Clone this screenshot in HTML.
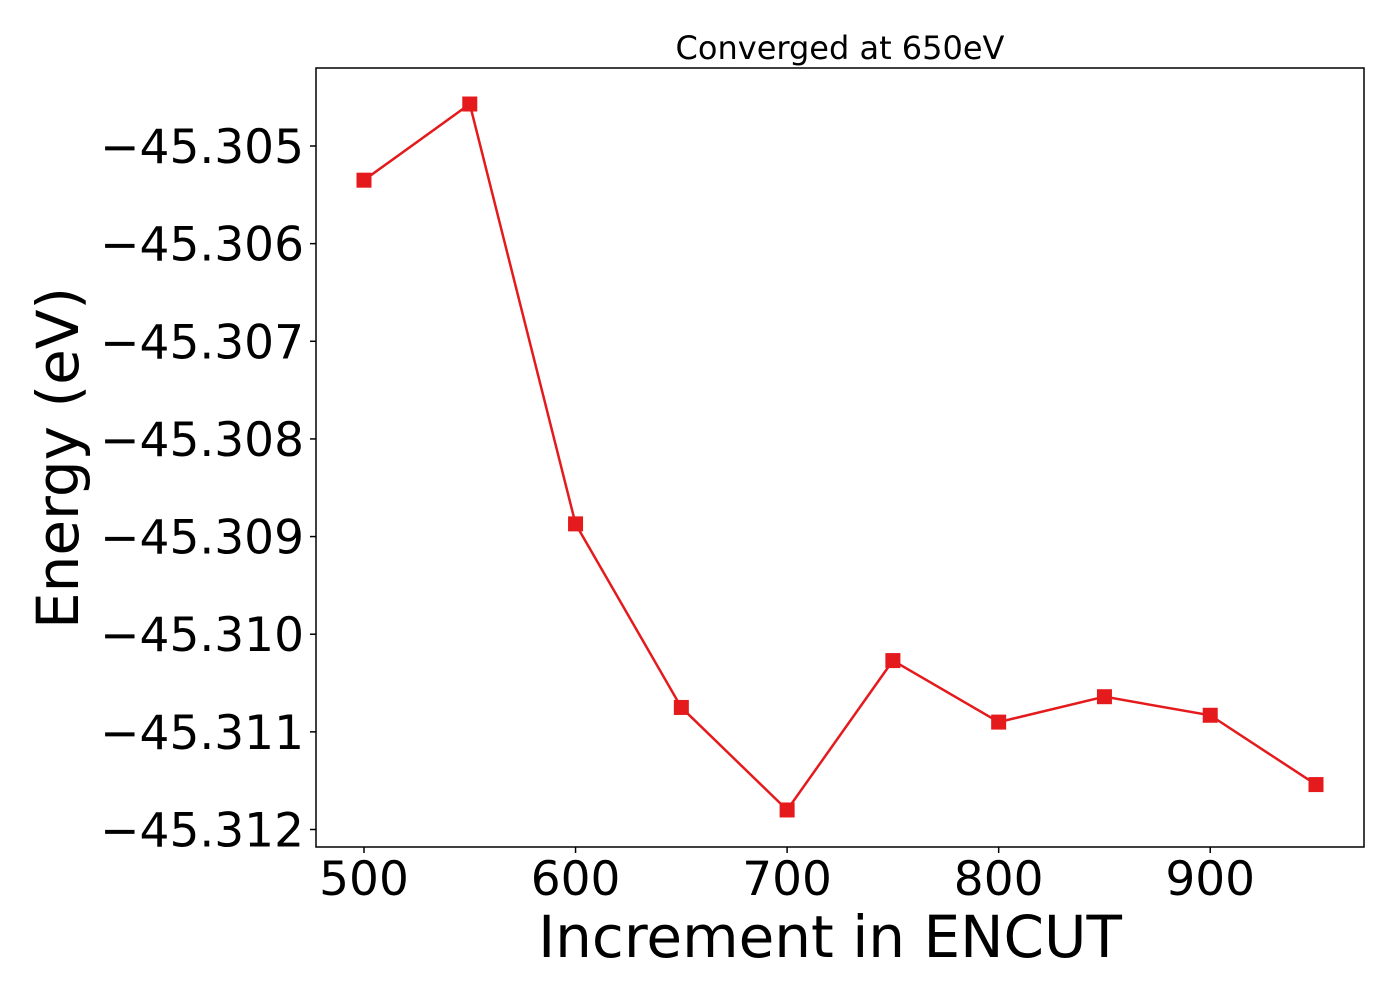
<!DOCTYPE html>
<html><head><meta charset="utf-8"><style>
html,body{margin:0;padding:0;background:#fff;}
svg{display:block;font-family:"DejaVu Sans","Liberation Sans",sans-serif;}
</style></head><body>
<svg id="chart" width="1400" height="1000" viewBox="0 0 1400 1000" xmlns="http://www.w3.org/2000/svg">
<rect width="1400" height="1000" fill="#fff"/>
<text x="840" y="59" font-size="32" text-anchor="middle">Converged at 650eV</text>
<g id="grid"></g>
<rect x="316" y="68" width="1048" height="779" fill="none" stroke="#000" stroke-width="1.5"/>
<text x="830" y="957" font-size="58" text-anchor="middle">Increment in ENCUT</text>
<text transform="translate(78,458) rotate(-90)" font-size="58" text-anchor="middle">Energy (eV)</text>
</svg>
<script>
const encut = [500,550,600,650,700,750,800,850,900,950];
const energy = [-45.30535,-45.30457,-45.30887,-45.31075,-45.31180,-45.31027,-45.31090,-45.31064,-45.31083,-45.31154];
const xTicks = [500,600,700,800,900];
const yTicks = [-45.305,-45.306,-45.307,-45.308,-45.309,-45.310,-45.311,-45.312];
const yTickLabels = ["\u221245.305","\u221245.306","\u221245.307","\u221245.308","\u221245.309","\u221245.310","\u221245.311","\u221245.312"];

const NS="http://www.w3.org/2000/svg";
function xs(v){return 364+(v-500)*(1316-364)/450;}
function ys(v){return 146+(-45.305-v)*(829.5-146)/0.007;}
const svg=document.getElementById('chart');
const g=document.getElementById('grid');
function mk(t,a){const e=document.createElementNS(NS,t);for(const k in a)e.setAttribute(k,a[k]);return e;}
xTicks.forEach(v=>{
  const l=mk('line',{x1:xs(v),x2:xs(v),y1:847,y2:853,stroke:'#000','stroke-width':1.5});
  
  
  svg.appendChild(l);
  const t=mk('text',{x:xs(v),y:895,'font-size':47,'text-anchor':'middle'});
  
  
  t.textContent=v;svg.appendChild(t);
});
yTicks.forEach((v,i)=>{
  const l=mk('line',{x1:310,x2:316,y1:ys(v),y2:ys(v),stroke:'#000','stroke-width':1.5});
  
  
  svg.appendChild(l);
  const t=mk('text',{x:304,y:ys(v)+17,'font-size':47,'text-anchor':'end'});
  
  
  t.textContent=yTickLabels[i];svg.appendChild(t);
});
const pts=encut.map((x,i)=>xs(x)+','+ys(energy[i])).join(' ');
const line=mk('polyline',{points:pts,fill:'none',stroke:'#e41a1c','stroke-width':2.5});


g.appendChild(line);
encut.forEach((x,i)=>{
  const r=mk('rect',{x:xs(x)-7.5,y:ys(energy[i])-7.5,width:15,height:15,fill:'#e41a1c'});
  
  
  g.appendChild(r);
});
</script>
</body></html>
